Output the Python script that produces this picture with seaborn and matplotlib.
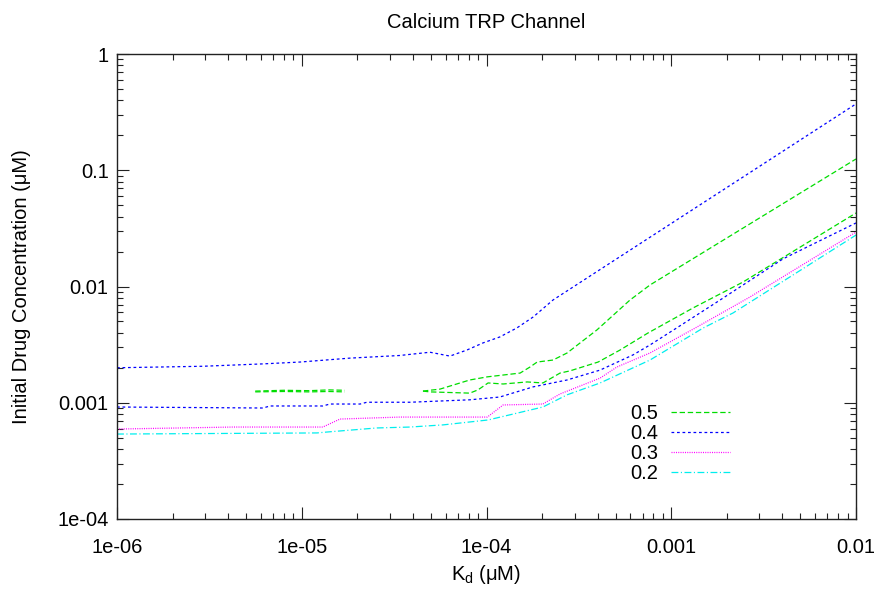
import numpy as np
import pandas as pd
import matplotlib
matplotlib.use("Agg")
import matplotlib.pyplot as plt
from matplotlib.ticker import FixedLocator, FixedFormatter, LogLocator, NullFormatter
import seaborn as sns

# ---------------- data ----------------
levels = ["0.5", "0.4", "0.3", "0.2"]

# 0.5 : upper curve (short early piece + main piece)
g_up_frag_kd = [5.6e-6, 8.0e-6, 1.1e-5, 1.4e-5, 1.71e-5]
g_up_frag_c = [0.00126, 0.00128, 0.00127, 0.00129, 0.00128]
g_up_kd = [4.53e-5, 5.6e-5, 8.12e-5, 1.01e-4, 1.52e-4, 1.72e-4, 1.88e-4, 2.29e-4,
           2.73e-4, 3.96e-4, 5.98e-4, 7.67e-4, 1e-2]
g_up_c = [0.00126, 0.00131, 0.00157, 0.00167, 0.0018, 0.00203, 0.00224, 0.00233,
          0.00268, 0.00423, 0.00765, 0.0103, 0.125]

# 0.5 : lower curve
g_lo_frag_kd = [5.6e-6, 8.0e-6, 1.1e-5, 1.4e-5, 1.71e-5]
g_lo_frag_c = [0.00124, 0.00125, 0.00124, 0.00125, 0.00124]
g_lo_kd = [4.53e-5, 4.94e-5, 8.12e-5, 8.99e-5, 1.02e-4, 1.23e-4, 1.66e-4, 2.02e-4,
           2.5e-4, 2.83e-4, 4.02e-4, 5.28e-4, 7.48e-4, 1.31e-3, 2.44e-3, 1e-2]
g_lo_c = [0.00126, 0.00124, 0.00121, 0.00129, 0.00148, 0.00145, 0.00151, 0.00148,
          0.0018, 0.00188, 0.00224, 0.00284, 0.00398, 0.00653, 0.0109, 0.0429]

# 0.4 : upper curve
b_up_kd = [1e-6, 2.92e-6, 6.2e-6, 9.8e-6, 1.82e-5, 3.39e-5, 4.94e-5, 6.34e-5, 7.83e-5,
           9.57e-5, 1.18e-4, 1.46e-4, 1.79e-4, 2.29e-4, 1e-2]
b_up_c = [0.0020, 0.00206, 0.00216, 0.00224, 0.00242, 0.00255, 0.00272, 0.00252, 0.00284,
          0.00327, 0.00368, 0.0044, 0.00547, 0.00765, 0.372]

# 0.4 : lower curve
b_lo_kd = [1e-6, 6.17e-6, 6.73e-6, 1.3e-5, 1.42e-5, 2.07e-5, 2.25e-5, 3.85e-5, 8.12e-5,
           1.18e-4, 1.79e-4, 2.73e-4, 4.12e-4, 6.21e-4, 7.67e-4, 1.07e-3, 1.77e-3,
           4.03e-3, 1e-2]
b_lo_c = [0.000919, 0.000901, 0.000938, 0.000938, 0.000975, 0.000975, 0.00101, 0.00101,
          0.00106, 0.00112, 0.00137, 0.00157, 0.00191, 0.00258, 0.00314, 0.0044,
          0.00736, 0.0173, 0.0352]

# 0.3
m_kd = [1e-6, 4.24e-6, 1.3e-5, 1.61e-5, 3.39e-5, 1.01e-4, 1.23e-4, 2.02e-4, 2.5e-4,
        4.12e-4, 5.08e-4, 7.67e-4, 1.35e-3, 2.67e-3, 1e-2]
m_c = [0.000594, 0.000618, 0.000618, 0.000724, 0.000753, 0.000753, 0.000957, 0.000975,
       0.00119, 0.00163, 0.00203, 0.00268, 0.0044, 0.00813, 0.0294]

# 0.2
c_kd = [1e-6, 1.21e-5, 1.37e-5, 2.55e-5, 3.85e-5, 5.82e-5, 1.02e-4, 2.02e-4, 2.73e-4,
        4.12e-4, 7.67e-4, 1.49e-3, 2.16e-3, 1e-2]
c_c = [0.000538, 0.00055, 0.00056, 0.000607, 0.000618, 0.000645, 0.000711, 0.000919,
       0.00117, 0.00148, 0.00233, 0.0044, 0.00592, 0.0277]

x_ticks = [1e-6, 1e-5, 1e-4, 1e-3, 1e-2]
x_tick_labels = ["1e-06", "1e-05", "1e-04", "0.001", "0.01"]
y_ticks = [1e-4, 1e-3, 1e-2, 1e-1, 1]
y_tick_labels = ["1e-04", "0.001", "0.01", "0.1", "1"]

# (level, kd, conc, show in legend)
curves = [
    ("0.5", g_up_kd, g_up_c, True),
    ("0.5", g_up_frag_kd, g_up_frag_c, False),
    ("0.5", g_lo_kd, g_lo_c, False),
    ("0.5", g_lo_frag_kd, g_lo_frag_c, False),
    ("0.4", b_up_kd, b_up_c, True),
    ("0.4", b_lo_kd, b_lo_c, False),
    ("0.3", m_kd, m_c, True),
    ("0.2", c_kd, c_c, True),
]

styles = {
    "0.5": dict(color="#00dd00", dashes=(4.3, 2.2)),
    "0.4": dict(color="#0000ff", dashes=(2.2, 2.2)),
    "0.3": dict(color="#ff00ff", dashes=(0.8, 1.0)),
    "0.2": dict(color="#00eeee", dashes=(5.5, 2.0, 0.9, 2.0)),
}

# ---------------- plot ----------------
sns.set_theme(style="white")
plt.rcParams["font.family"] = ["Liberation Sans", "DejaVu Sans"]
plt.rcParams["mathtext.fontset"] = "custom"
plt.rcParams["mathtext.rm"] = "Liberation Sans"
plt.rcParams["mathtext.it"] = "Liberation Sans:italic"
plt.rcParams["text.color"] = "black"
plt.rcParams["axes.labelcolor"] = "black"
plt.rcParams["xtick.color"] = "black"
plt.rcParams["ytick.color"] = "black"

FS = 14.5

fig = plt.figure(figsize=(8.8, 5.89), dpi=100)
ax = fig.add_axes([117 / 880, 1 - 519 / 589, (856 - 117) / 880, (519 - 54) / 589])

handles = {}
for lev, kd, conc, show in curves:
    df = pd.DataFrame({"kd": kd, "conc": conc})
    st = styles[lev]
    n_before = len(ax.lines)
    sns.lineplot(data=df, x="kd", y="conc", ax=ax, sort=False, estimator=None,
                 color=st["color"], linewidth=0.9)
    line = ax.lines[n_before]
    line.set_dashes(st["dashes"])
    if show:
        handles[lev] = line

ax.set_xscale("log")
ax.set_yscale("log")
ax.set_xlim(1e-6, 1e-2)
ax.set_ylim(1e-4, 1)

ax.xaxis.set_major_locator(FixedLocator(x_ticks))
ax.xaxis.set_major_formatter(FixedFormatter(x_tick_labels))
ax.yaxis.set_major_locator(FixedLocator(y_ticks))
ax.yaxis.set_major_formatter(FixedFormatter(y_tick_labels))
ax.xaxis.set_minor_locator(LogLocator(base=10, subs=np.arange(2, 10), numticks=20))
ax.yaxis.set_minor_locator(LogLocator(base=10, subs=np.arange(2, 10), numticks=20))
ax.xaxis.set_minor_formatter(NullFormatter())
ax.yaxis.set_minor_formatter(NullFormatter())

ax.tick_params(which="both", direction="in", top=True, right=True,
               bottom=True, left=True, color="#222222", labelcolor="black", width=0.8)
ax.tick_params(which="major", length=8.6, labelsize=FS)
ax.tick_params(which="minor", length=4.3)
ax.tick_params(axis="x", which="major", pad=14)
ax.tick_params(axis="y", which="major", pad=6)
for s in ax.spines.values():
    s.set_color("#222222")
    s.set_linewidth(1.0)

ax.set_title("Calcium TRP Channel", fontsize=FS, pad=19, color="black")
ax.set_xlabel("K$_\\mathrm{d}$ (μM)", fontsize=FS, labelpad=4, color="black")
ax.set_ylabel("Initial Drug Concentration (μM)", fontsize=FS, labelpad=19, color="black")
ax.grid(False)

leg = ax.legend([handles[l] for l in levels], levels, loc="center",
                bbox_to_anchor=(0.762, 0.162), frameon=False, markerfirst=False,
                fontsize=FS, handlelength=2.9, handletextpad=0.65,
                labelspacing=0.06, borderpad=0, labelcolor="black")

fig.savefig("out.png", dpi=100)
